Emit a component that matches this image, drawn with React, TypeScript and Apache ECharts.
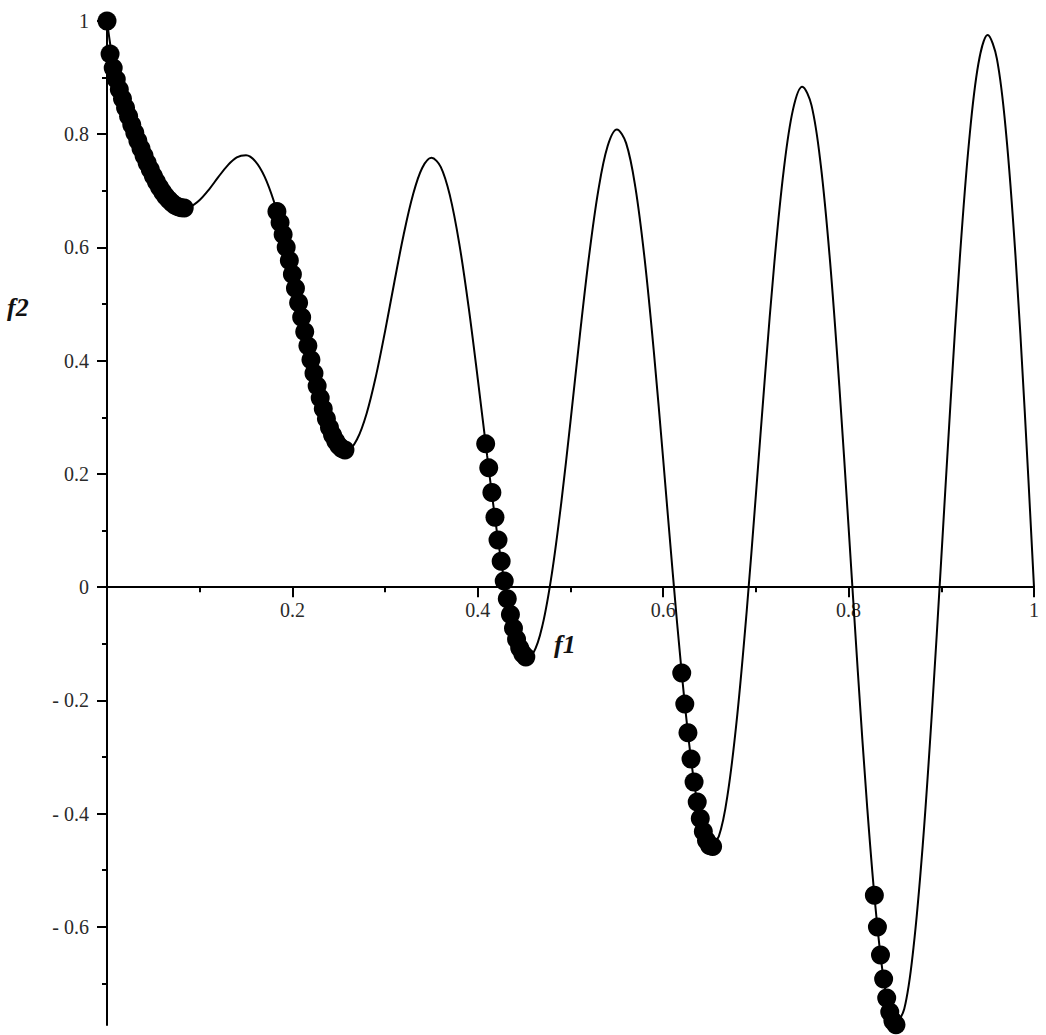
import React, { useEffect, useRef } from "react";
import * as echarts from "echarts";

// Front curve (f1, f2)
const curveF1 = [
  0, 0.01, 0.02, 0.03, 0.04, 0.05, 0.06, 0.07, 0.08, 0.09,
  0.1, 0.11, 0.12, 0.13, 0.14, 0.15, 0.16, 0.17, 0.18, 0.19,
  0.2, 0.21, 0.22, 0.23, 0.24, 0.25, 0.26, 0.27, 0.28, 0.29,
  0.3, 0.31, 0.32, 0.33, 0.34, 0.35, 0.36, 0.37, 0.38, 0.39,
  0.4, 0.41, 0.42, 0.43, 0.44, 0.45, 0.46, 0.47, 0.48, 0.49,
  0.5, 0.51, 0.52, 0.53, 0.54, 0.55, 0.56, 0.57, 0.58, 0.59,
  0.6, 0.61, 0.62, 0.63, 0.64, 0.65, 0.66, 0.67, 0.68, 0.69,
  0.7, 0.71, 0.72, 0.73, 0.74, 0.75, 0.76, 0.77, 0.78, 0.79,
  0.8, 0.81, 0.82, 0.83, 0.84, 0.85, 0.86, 0.87, 0.88, 0.89,
  0.9, 0.91, 0.92, 0.93, 0.94, 0.95, 0.96, 0.97, 0.98, 0.99,
  1.0,
];
const curveF2 = [
  1, 0.8969, 0.8468, 0.8025, 0.762, 0.7264, 0.698, 0.6788, 0.6701, 0.6722,
  0.6838, 0.7023, 0.7241, 0.7446, 0.759, 0.7627, 0.7522, 0.7252, 0.6815, 0.6228,
  0.5528, 0.4768, 0.4016, 0.3343, 0.2818, 0.25, 0.2428, 0.262, 0.3063, 0.3719,
  0.4523, 0.539, 0.6224, 0.6925, 0.7403, 0.7584, 0.7424, 0.6911, 0.6069, 0.496,
  0.3675, 0.233, 0.1051, -0.0036, -0.0818, -0.1208, -0.1157, -0.0658, 0.025, 0.1486,
  0.2929, 0.4435, 0.5845, 0.7008, 0.7787, 0.8084, 0.7843, 0.7062, 0.5793, 0.4142,
  0.2254, 0.0305, -0.1518, -0.3034, -0.4087, -0.4562, -0.4401, -0.3606, -0.2243, -0.0439,
  0.1633, 0.3768, 0.5747, 0.7362, 0.8435, 0.884, 0.851, 0.7454, 0.5753, 0.3553,
  0.1056, -0.1503, -0.3875, -0.5825, -0.7154, -0.772, -0.7453, -0.6366, -0.4553, -0.2184,
  0.0513, 0.3273, 0.5816, 0.788, 0.9245, 0.9753, 0.9332, 0.7999, 0.5861, 0.3109,
  0,
];

// Pareto points (dots)
const paretoF1 = [
  0, 0.0033, 0.0067, 0.01, 0.0133, 0.0167, 0.02, 0.0233, 0.0267, 0.03, 0.0333, 0.0367, 0.04,
  0.0433, 0.0467, 0.05, 0.0533, 0.0567, 0.06, 0.0633, 0.0667, 0.07, 0.0733, 0.0767, 0.08, 0.0833,
  0.1833, 0.1867, 0.19, 0.1933, 0.1967, 0.2, 0.2033, 0.2067, 0.21, 0.2133, 0.2167, 0.22,
  0.2233, 0.2267, 0.23, 0.2333, 0.2367, 0.24, 0.2433, 0.2467, 0.25, 0.2533, 0.2567,
  0.4085, 0.4118, 0.4152, 0.4185, 0.4218, 0.4252, 0.4285, 0.4318, 0.4352, 0.4385, 0.4418, 0.4452, 0.4485, 0.4518,
  0.62, 0.6233, 0.6267, 0.63, 0.6333, 0.6367, 0.64, 0.6433, 0.6467, 0.65, 0.6533,
  0.8278, 0.8311, 0.8344, 0.8378, 0.8411, 0.8444, 0.8478, 0.8511,
];
const paretoF2 = [
  1, 0.9419, 0.917, 0.8969, 0.8791, 0.8626, 0.8468, 0.8316, 0.8169, 0.8025, 0.7886, 0.775, 0.762,
  0.7494, 0.7376, 0.7264, 0.716, 0.7065, 0.698, 0.6905, 0.6841, 0.6788, 0.6747, 0.6718, 0.6701, 0.6697,
  0.6635, 0.6439, 0.6228, 0.6005, 0.5771, 0.5528, 0.5278, 0.5024, 0.4768, 0.4513, 0.4262, 0.4016,
  0.378, 0.3555, 0.3343, 0.3149, 0.2973, 0.2818, 0.2687, 0.258, 0.25, 0.2447, 0.2423,
  0.2531, 0.2107, 0.1671, 0.1233, 0.0834, 0.0457, 0.011, -0.0205, -0.0485, -0.0724, -0.0921, -0.1073, -0.1177, -0.1233,
  -0.1518, -0.2066, -0.2573, -0.3034, -0.3443, -0.3795, -0.4087, -0.4314, -0.4473, -0.4562, -0.458,
  -0.5443, -0.6005, -0.6496, -0.6923, -0.7256, -0.7503, -0.7665, -0.7731,
];

// Tick values
const xMajorTicks = [0.2, 0.4, 0.6, 0.8, 1];
const xMinorTicks = [0.1, 0.3, 0.5, 0.7, 0.9];
const yMajorTicks = [-0.6, -0.4, -0.2, 0, 0.2, 0.4, 0.6, 0.8, 1];
const yMinorTicks = [-0.7, -0.5, -0.3, -0.1, 0.1, 0.3, 0.5, 0.7, 0.9];

const X_MIN = 0;
const X_MAX = 1;
const Y_MIN = -0.7734;
const Y_MAX = 1;

const W = 1046;
const H = 1035;
const GRID = { left: 107, right: 12, top: 21, bottom: 10 };

const SERIF = '"Liberation Serif", "Times New Roman", serif';

const fmt = (v: number) => {
  const r = Math.round(v * 10) / 10;
  if (r < 0) return "- " + String(Math.abs(r));
  return String(r);
};

export default function App() {
  const ref = useRef<HTMLDivElement>(null);

  useEffect(() => {
    if (!ref.current) return;
    const chart = echarts.init(ref.current, undefined, { renderer: "svg" });

    const curve = curveF1.map((x, i) => [x, curveF2[i]]);
    const pts = paretoF1.map((x, i) => [x, paretoF2[i]]);

    // shift the x axis from the grid bottom up to f2 = 0
    const plotH = H - GRID.top - GRID.bottom;
    const zeroOffset = -(plotH * (0 - Y_MIN)) / (Y_MAX - Y_MIN);

    const labelStyle = {
      fontFamily: SERIF,
      fontSize: 20,
      color: "#2a2a2a",
    };

    chart.setOption({
      animation: false,
      backgroundColor: "#ffffff",
      grid: { ...GRID, containLabel: false, outerBoundsMode: "none" },
      xAxis: [
        {
          type: "value",
          position: "bottom",
          offset: zeroOffset,
          min: X_MIN,
          max: X_MAX,
          axisLine: { show: true, onZero: false, lineStyle: { color: "#000", width: 2 } },
          axisTick: {
            show: true,
            length: 10,
            customValues: xMajorTicks,
            lineStyle: { color: "#000", width: 2 },
          },
          axisLabel: {
            show: true,
            margin: 13,
            customValues: xMajorTicks,
            formatter: fmt,
            ...labelStyle,
          },
          splitLine: { show: false },
        },
        {
          type: "value",
          position: "bottom",
          offset: zeroOffset,
          min: X_MIN,
          max: X_MAX,
          axisLine: { show: false, onZero: false },
          axisTick: {
            show: true,
            length: 5,
            customValues: xMinorTicks,
            lineStyle: { color: "#000", width: 2 },
          },
          axisLabel: { show: false },
          splitLine: { show: false },
        },
      ],
      yAxis: [
        {
          type: "value",
          position: "left",
          min: Y_MIN,
          max: Y_MAX,
          axisLine: { show: true, onZero: false, lineStyle: { color: "#000", width: 2 } },
          axisTick: {
            show: true,
            length: 10,
            customValues: yMajorTicks,
            lineStyle: { color: "#000", width: 2 },
          },
          axisLabel: {
            show: true,
            margin: 18,
            customValues: yMajorTicks,
            formatter: fmt,
            ...labelStyle,
          },
          splitLine: { show: false },
        },
        {
          type: "value",
          position: "left",
          min: Y_MIN,
          max: Y_MAX,
          axisLine: { show: false, onZero: false },
          axisTick: {
            show: true,
            length: 5,
            customValues: yMinorTicks,
            lineStyle: { color: "#000", width: 2 },
          },
          axisLabel: { show: false },
          splitLine: { show: false },
        },
      ],
      graphic: [
        {
          type: "text",
          left: 7,
          top: 294,
          style: {
            text: "f2",
            font: 'italic bold 26px "Liberation Serif", "Times New Roman", serif',
            fill: "#111",
          },
        },
        {
          type: "text",
          left: 554,
          top: 631,
          style: {
            text: "f1",
            font: 'italic bold 26px "Liberation Serif", "Times New Roman", serif',
            fill: "#111",
          },
        },
      ],
      series: [
        {
          type: "line",
          xAxisIndex: 0,
          yAxisIndex: 0,
          data: curve,
          showSymbol: false,
          smooth: 0.35,
          lineStyle: { color: "#000", width: 2 },
          clip: false,
          z: 2,
        },
        {
          type: "scatter",
          xAxisIndex: 0,
          yAxisIndex: 0,
          data: pts,
          symbol: "circle",
          symbolSize: 19,
          itemStyle: { color: "#000", opacity: 1 },
          clip: false,
          z: 3,
        },
      ],
    });

    return () => chart.dispose();
  }, []);

  return (
    <div
      ref={ref}
      style={{ position: "fixed", left: 0, top: 0, width: W, height: H, background: "#fff" }}
    />
  );
}
